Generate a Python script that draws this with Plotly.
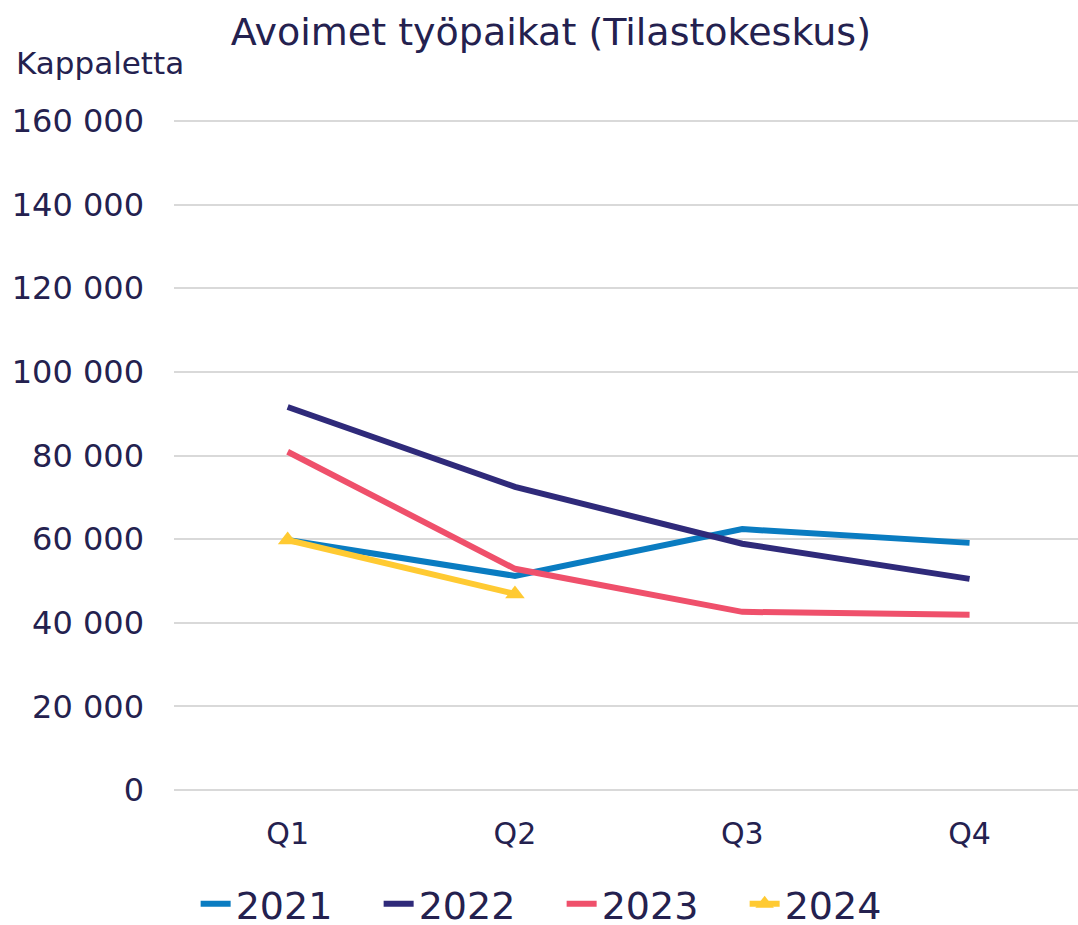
import plotly.graph_objects as go

quarters = ["Q1", "Q2", "Q3", "Q4"]
v2021 = [59800, 51200, 62400, 59100]
v2022 = [91600, 72500, 58900, 50500]
v2023 = [80900, 52900, 42600, 41900]
v2024 = [59800, 46900]
tick_vals = [0, 20000, 40000, 60000, 80000, 100000, 120000, 140000, 160000]
tick_text = ["0", "20 000", "40 000", "60 000", "80 000", "100 000", "120 000", "140 000", "160 000"]

txt = "#24214F"
fig = go.Figure()
series = [("2021", v2021, "#0A7CC1"), ("2022", v2022, "#2F2A7A"), ("2023", v2023, "#EF506B")]
for name, vals, col in series:
    fig.add_trace(go.Scatter(x=quarters[:len(vals)], y=vals, name=name, mode="lines",
                             line=dict(color=col, width=6)))
fig.add_trace(go.Scatter(x=quarters[:len(v2024)], y=v2024, name="2024", mode="lines+markers",
                         line=dict(color="#FFCA32", width=6),
                         marker=dict(symbol="triangle-up", size=17, color="#FFCA32")))

fig.update_layout(
    width=1078, height=925,
    margin=dict(l=174, r=0, t=116, b=130, autoexpand=False),
    paper_bgcolor="white", plot_bgcolor="white",
    font=dict(family="DejaVu Sans", color=txt, size=30),
    title=dict(text="Avoimet työpaikat (Tilastokeskus)", xref="container", x=0.511, xanchor="center",
               yref="container", y=1 - 32/925, yanchor="middle", font=dict(size=38, color=txt)),
    xaxis=dict(range=[-0.5, 3.477], showgrid=False, showline=False, ticks="", tickfont=dict(size=30),
               ticklabelstandoff=18),
    yaxis=dict(range=[-1200, 161200], tickvals=tick_vals, ticktext=tick_text, showgrid=True,
               gridcolor="#D9D9D9", gridwidth=2, zeroline=False,
               ticks="", ticklabelstandoff=29, tickfont=dict(size=32)),
    legend=dict(orientation="h", x=0.521, xref="container", xanchor="center", y=1 - 904 / 925,
                yref="container", yanchor="middle", font=dict(family="DejaVu Sans", size=38, color=txt),
                itemwidth=30, tracegroupgap=0, entrywidth=138, entrywidthmode="pixels"),
    showlegend=True,
)
fig.add_annotation(text="Kappaletta", xref="paper", yref="paper", x=(14 - 174) / 904, y=1 + (116 - 63) / 679,
                   xanchor="left", yanchor="middle", showarrow=False, font=dict(size=31, color=txt))
fig.write_html("out.html", config={"displayModeBar": False},
               post_script="document.body.style.margin='0';document.body.style.padding='0';")
